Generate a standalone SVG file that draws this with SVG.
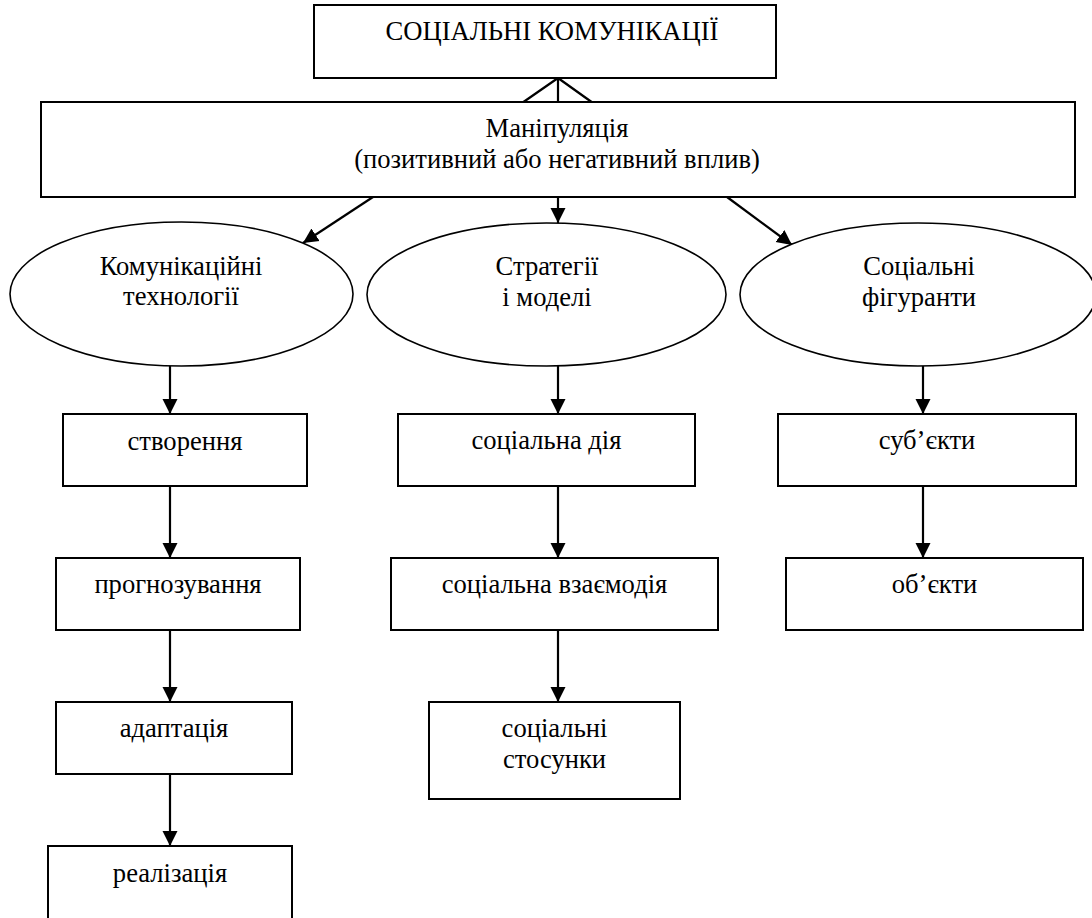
<svg xmlns="http://www.w3.org/2000/svg" width="1092" height="918" viewBox="0 0 1092 918">
<style>
.b{fill:#fff;stroke:#000;stroke-width:2}
.e{fill:#fff;stroke:#000;stroke-width:1.6}
.t{font-family:"Liberation Serif","Times New Roman",serif;font-size:26.6px;fill:#000;text-anchor:middle}
.c{stroke:#000;stroke-width:2.2;fill:none}
</style>
<defs>
<marker id="ah" markerUnits="userSpaceOnUse" markerWidth="16" markerHeight="16" viewBox="0 0 16 16" refX="15" refY="8" orient="auto">
<path d="M0,0.5 L15,8 L0,15.5 Z" fill="#000"/>
</marker>
</defs>
<rect width="1092" height="918" fill="#fff"/>
<g id="connectors">
<path class="c" d="M558,78 L522,103 M558,78 L593,103 M558,78 L558,103"/>
<line class="c" x1="373" y1="197" x2="303" y2="243" marker-end="url(#ah)"/>
<line class="c" x1="558" y1="197" x2="558" y2="223" marker-end="url(#ah)"/>
<line class="c" x1="727" y1="197" x2="792" y2="245" marker-end="url(#ah)"/>
<line class="c" x1="170" y1="366" x2="170" y2="414" marker-end="url(#ah)"/>
<line class="c" x1="170" y1="486" x2="170" y2="558" marker-end="url(#ah)"/>
<line class="c" x1="170" y1="630" x2="170" y2="702" marker-end="url(#ah)"/>
<line class="c" x1="170" y1="774" x2="170" y2="846" marker-end="url(#ah)"/>
<line class="c" x1="558" y1="366" x2="558" y2="414" marker-end="url(#ah)"/>
<line class="c" x1="558" y1="486" x2="558" y2="558" marker-end="url(#ah)"/>
<line class="c" x1="558" y1="630" x2="558" y2="702" marker-end="url(#ah)"/>
<line class="c" x1="923" y1="366" x2="923" y2="414" marker-end="url(#ah)"/>
<line class="c" x1="923" y1="486" x2="923" y2="558" marker-end="url(#ah)"/>
</g>
<g id="root">
<rect class="b" x="314" y="5" width="462" height="73"/>
<text class="t" x="552" y="40">СОЦІАЛЬНІ КОМУНІКАЦІЇ</text>
</g>
<g id="manipulation">
<rect class="b" x="41" y="102" width="1034" height="95"/>
<text class="t" x="557" y="137">Маніпуляція</text>
<text class="t" x="557" y="168">(позитивний або негативний вплив)</text>
</g>
<g id="tech">
<ellipse class="e" cx="181.5" cy="294" rx="171.5" ry="72"/>
<text class="t" x="181" y="275">Комунікаційні</text>
<text class="t" x="181" y="305">технології</text>
</g>
<g id="strategies">
<ellipse class="e" cx="546.5" cy="294.5" rx="179.5" ry="71.5"/>
<text class="t" x="547" y="275">Стратегії</text>
<text class="t" x="547" y="306">і моделі</text>
</g>
<g id="figures">
<ellipse class="e" cx="918" cy="294.5" rx="178" ry="71.5"/>
<text class="t" x="919" y="275">Соціальні</text>
<text class="t" x="919" y="306">фігуранти</text>
</g>
<g id="creation">
<rect class="b" x="63" y="414" width="244" height="72"/>
<text class="t" x="185" y="450">створення</text>
</g>
<g id="forecasting">
<rect class="b" x="56" y="558" width="244" height="72"/>
<text class="t" x="178" y="593">прогнозування</text>
</g>
<g id="adaptation">
<rect class="b" x="56" y="702" width="236" height="72"/>
<text class="t" x="174" y="737">адаптація</text>
</g>
<g id="realization">
<rect class="b" x="48" y="846" width="244" height="76"/>
<text class="t" x="170" y="882">реалізація</text>
</g>
<g id="social-action">
<rect class="b" x="398" y="414" width="297" height="72"/>
<text class="t" x="546.5" y="449">соціальна дія</text>
</g>
<g id="social-interaction">
<rect class="b" x="391" y="558" width="327" height="72"/>
<text class="t" x="554.5" y="593">соціальна взаємодія</text>
</g>
<g id="social-relations">
<rect class="b" x="429" y="702" width="251" height="97"/>
<text class="t" x="554.5" y="737">соціальні</text>
<text class="t" x="554.5" y="768">стосунки</text>
</g>
<g id="subjects">
<rect class="b" x="778" y="414" width="298" height="72"/>
<text class="t" x="927" y="449">суб’єкти</text>
</g>
<g id="objects">
<rect class="b" x="786" y="558" width="297" height="72"/>
<text class="t" x="934.5" y="593">об’єкти</text>
</g>
</svg>
